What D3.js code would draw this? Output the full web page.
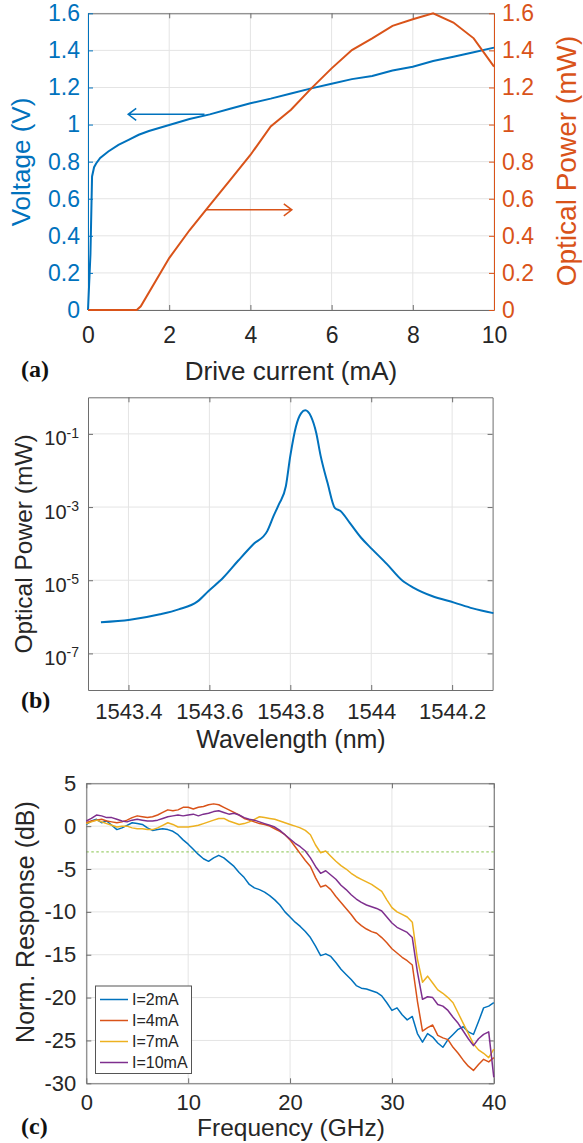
<!DOCTYPE html>
<html>
<head>
<meta charset="utf-8">
<script src="https://cdn.jsdelivr.net/npm/d3@7"></script>
<style>
  body { margin: 0; background: #fff; }
  svg { display: block; font-family: 'Liberation Sans', Arial, sans-serif; }
</style>
</head>
<body>
<div id="chart"></div>
<script>
// ---- data: (a) L-I-V ----
const currentV = [0, 0.06, 0.1, 0.15, 0.2, 0.3, 0.5, 0.75, 1, 1.25, 1.5, 2, 2.5, 3, 3.5, 4, 4.5, 5, 5.5, 6, 6.5, 7, 7.5, 8, 8.5, 9, 9.5, 10]
const voltage = [0, 0.3, 0.72, 0.77, 0.79, 0.82, 0.855, 0.89, 0.917, 0.945, 0.965, 0.998, 1.03, 1.055, 1.085, 1.115, 1.14, 1.168, 1.195, 1.22, 1.245, 1.262, 1.292, 1.312, 1.343, 1.366, 1.39, 1.415]
const currentP = [0, 1.2, 1.3, 2, 2.5, 3, 3.5, 4, 4.5, 5, 5.5, 6, 6.5, 7, 7.5, 8, 8.5, 9, 9.5, 10]
const power = [0, 0, 0.02, 0.28, 0.43, 0.566, 0.7, 0.836, 0.99, 1.08, 1.195, 1.303, 1.402, 1.465, 1.532, 1.568, 1.6, 1.55, 1.465, 1.312]
const currentTicks = [0, 2, 4, 6, 8, 10]
const leftTicks = [0, 0.2, 0.4, 0.6, 0.8, 1, 1.2, 1.4, 1.6]

// ---- data: (b) spectrum ----
const wavelength = [1543.332, 1543.404, 1543.478, 1543.524, 1543.570, 1543.598, 1543.634, 1543.671, 1543.708, 1543.743, 1543.759, 1543.772, 1543.789, 1543.800, 1543.814, 1543.827, 1543.837, 1543.851, 1543.864, 1543.875, 1543.892, 1543.910, 1543.924, 1543.947, 1543.975, 1544.002, 1544.039, 1544.076, 1544.104, 1544.150, 1544.205, 1544.251, 1544.302]
const spectrum = [7.1e-7, 8.3e-7, 1.17e-6, 1.6e-6, 2.6e-6, 5.1e-6, 1.17e-5, 3.4e-5, 9.5e-5, 2.2e-4, 5.8e-4, 1.2e-3, 3.7e-3, 0.025, 0.16, 0.37, 0.44, 0.30, 0.107, 0.025, 4.6e-3, 9.5e-4, 7.8e-4, 3.7e-4, 1.45e-4, 7.1e-5, 2.75e-5, 1.0e-5, 6.3e-6, 3.7e-6, 2.45e-6, 1.7e-6, 1.26e-6]
const wlTicks = [1543.4, 1543.6, 1543.8, 1544, 1544.2]
const powTicks = [1e-1, 1e-3, 1e-5, 1e-7]

// ---- data: (c) modulation response ----
const freq = [0, 0.5, 1, 1.5, 2, 2.5, 3, 3.5, 4, 4.5, 5, 5.5, 6, 6.5, 7, 7.5, 8, 8.5, 9, 9.5, 10, 10.5, 11, 11.5, 12, 12.5, 13, 13.5, 14, 14.5, 15, 15.5, 16, 16.5, 17, 17.5, 18, 18.5, 19, 19.5, 20, 20.5, 21, 21.5, 22, 22.5, 23, 23.5, 24, 24.5, 25, 25.5, 26, 26.5, 27, 27.5, 28, 28.5, 29, 29.5, 30, 30.5, 31, 31.5, 32, 32.5, 33, 33.5, 34, 34.5, 35, 35.5, 36, 36.5, 37, 37.5, 38, 38.5, 39, 39.5, 40]
const resp2mA = [0.2, 0.6, 0.8, 0.4, 0.6, 0.1, -0.4, -0.2, 0.1, 0.4, 0.3, 0.2, -0.2, -0.5, -0.4, -0.3, -0.4, -0.6, -1.0, -1.6, -2.1, -2.7, -3.3, -3.8, -4.1, -3.7, -3.4, -3.7, -4.2, -4.7, -5.4, -6.0, -6.8, -7.2, -7.4, -7.7, -8.1, -8.6, -9.2, -10.0, -10.6, -11.2, -11.7, -12.3, -13.0, -14.0, -15.1, -14.9, -15.2, -15.9, -16.7, -17.3, -17.9, -18.6, -18.9, -19.0, -19.2, -19.4, -19.8, -20.6, -21.5, -21.2, -22.0, -22.6, -22.2, -24.2, -25.2, -24.2, -24.6, -25.3, -25.8, -24.9, -24.3, -23.7, -23.4, -24.0, -24.3, -22.8, -21.2, -21.0, -20.6]
const resp4mA = [0.4, 0.6, 0.7, 0.8, 0.6, 0.5, 0.4, 0.5, 0.7, 1.0, 1.2, 1.1, 1.0, 1.1, 1.3, 1.6, 1.9, 1.8, 1.9, 2.2, 2.2, 2.0, 2.2, 2.3, 2.5, 2.6, 2.5, 2.2, 1.9, 1.6, 1.3, 0.9, 0.7, 0.5, 0.3, 0.2, 0.0, -0.3, -0.6, -1.0, -1.6, -2.4, -3.2, -4.0, -4.7, -6.0, -7.1, -6.9, -7.4, -8.2, -8.9, -9.6, -10.3, -11.1, -11.6, -12.0, -12.3, -12.5, -13.0, -13.6, -14.3, -14.8, -15.3, -15.7, -16.2, -20.4, -23.9, -23.5, -23.2, -24.4, -24.7, -24.9, -25.8, -26.5, -27.3, -28.0, -28.5, -27.8, -27.2, -27.5, -27.0]
const resp7mA = [0.3, 0.5, 0.7, 0.5, 0.3, 0.1, -0.1, 0.0, 0.0, -0.2, -0.3, -0.3, -0.4, -0.4, -0.2, 0.1, 0.4, 0.2, -0.1, -0.1, -0.1, 0.0, 0.1, 0.3, 0.5, 0.7, 0.9, 0.9, 0.6, 0.4, 0.2, 0.3, 0.5, 0.8, 1.1, 1.0, 0.9, 0.8, 0.6, 0.4, 0.2, 0.0, -0.2, -0.5, -1.0, -2.2, -3.1, -2.9, -3.5, -4.1, -4.6, -5.0, -5.5, -5.9, -6.2, -6.5, -6.8, -7.2, -7.6, -8.6, -9.5, -10.0, -10.3, -10.6, -11.2, -15.5, -18.2, -17.5, -18.3, -19.1, -19.5, -20.0, -20.6, -21.8, -23.0, -24.2, -25.4, -26.1, -26.5, -27.0, -26.0]
const resp10mA = [0.6, 0.9, 1.3, 1.2, 1.0, 1.0, 0.8, 0.6, 0.5, 0.7, 0.8, 0.7, 0.6, 0.6, 0.7, 0.9, 1.1, 1.2, 1.3, 1.2, 1.3, 1.4, 1.2, 1.4, 1.5, 1.7, 1.8, 1.6, 1.4, 1.5, 1.3, 1.0, 0.8, 0.7, 0.5, 0.3, 0.1, -0.1, -0.5, -1.0, -1.5, -2.0, -2.4, -2.9, -3.7, -4.7, -5.5, -5.2, -5.7, -6.2, -6.9, -7.4, -8.0, -8.5, -8.9, -9.2, -9.4, -9.6, -9.9, -10.6, -11.3, -11.8, -12.1, -12.4, -13.0, -17.0, -20.2, -19.9, -20.0, -20.8, -21.0, -21.5, -22.3, -23.0, -23.9, -24.8, -25.6, -24.8, -24.3, -24.0, -29.3]
const seriesNames = ['I=2mA', 'I=4mA', 'I=7mA', 'I=10mA']
const freqTicks = [0, 10, 20, 30, 40]
const respTicks = [-30, -25, -20, -15, -10, -5, 0, 5]
const cutoff = -3

const blue = '#0072BD', orange = '#D95319', yellow = '#EDB120', purple = '#7E2F8E'
const gridColor = '#e4e4e4', boxColor = '#6e6e6e', textColor = '#262626'

const svg = d3.select('#chart').append('svg').attr('width', 583).attr('height', 1143)

// light grid lines for a panel
function grid(g, x, y, xt, yt) {
  const [x0, x1] = x.range(), [y0, y1] = y.range()
  g.append('g').selectAll('line').data(xt).join('line')
    .attr('x1', d => x(d)).attr('x2', d => x(d)).attr('y1', y0).attr('y2', y1)
    .attr('stroke', gridColor)
  g.append('g').selectAll('line').data(yt).join('line')
    .attr('x1', x0).attr('x2', x1).attr('y1', d => y(d)).attr('y2', d => y(d))
    .attr('stroke', gridColor)
}

function styleAxis(g, color, size) {
  g.select('.domain').attr('stroke', color)
  g.selectAll('.tick line').attr('stroke', color)
  g.selectAll('text').attr('fill', color).style('font-size', size + 'px').attr('font-family', null)
}

function rotLabel(x, y, txt, size, color) {
  svg.append('text').attr('transform', `translate(${x},${y}) rotate(-90)`)
    .attr('text-anchor', 'middle').attr('dominant-baseline', 'central')
    .style('font-size', size + 'px').attr('fill', color).text(txt)
}

function tag(y, txt) {
  svg.append('text').attr('x', 21).attr('y', y)
    .attr('font-family', "'Liberation Serif', 'Times New Roman', serif")
    .attr('font-weight', 700).style('font-size', '24px').attr('fill', '#111').text(txt)
}

const fmt = d => String(+d.toFixed(1))

// ================= panel (a) =================
const xA = d3.scaleLinear().domain([0, 10]).range([88, 494])
const yV = d3.scaleLinear().domain([0, 1.6]).range([310, 13.3])
const yP = d3.scaleLinear().domain([0, 1.6]).range([310, 13.3])
const pa = svg.append('g')
grid(pa, xA, yV, currentTicks, leftTicks)

pa.append('g').attr('transform', 'translate(0,13.3)')
  .call(d3.axisTop(xA).tickValues(currentTicks).tickSizeInner(-5).tickSizeOuter(0).tickFormat(''))
  .call(g => styleAxis(g, boxColor, 23))
pa.append('g').attr('transform', 'translate(0,310)')
  .call(d3.axisBottom(xA).tickValues(currentTicks).tickSizeInner(-5).tickSizeOuter(0).tickFormat(fmt))
  .call(g => styleAxis(g, boxColor, 23))
  .call(g => g.selectAll('text').attr('y', 33).attr('dy', null).attr('fill', textColor))
pa.append('g').attr('transform', 'translate(88,0)')
  .call(d3.axisLeft(yV).tickValues(leftTicks).tickSizeInner(-5).tickSizeOuter(0).tickPadding(8).tickFormat(fmt))
  .call(g => styleAxis(g, blue, 23))
pa.append('g').attr('transform', 'translate(494,0)')
  .call(d3.axisRight(yP).tickValues(leftTicks).tickSizeInner(-5).tickSizeOuter(0).tickPadding(8).tickFormat(fmt))
  .call(g => styleAxis(g, orange, 23))

pa.append('path').datum(currentV.map((c, i) => [c, voltage[i]]))
  .attr('fill', 'none').attr('stroke', blue).attr('stroke-width', 2)
  .attr('d', d3.line().x(d => xA(d[0])).y(d => yV(d[1])))
pa.append('path').datum(currentP.map((c, i) => [c, power[i]]))
  .attr('fill', 'none').attr('stroke', orange).attr('stroke-width', 2)
  .attr('d', d3.line().x(d => xA(d[0])).y(d => yP(d[1])))

// arrows pointing to the axis each curve belongs to
const arrows = [
  { from: 2.87, to: 0.99, level: 1.055, y: yV, color: blue },
  { from: 2.91, to: 5.02, level: 0.54, y: yP, color: orange }
]
arrows.forEach(a => {
  const y = a.y(a.level), x0 = xA(a.from), x1 = xA(a.to), dir = x1 > x0 ? -1 : 1
  pa.append('path')
    .attr('d', `M${x0},${y}H${x1}M${x1 + dir * 8},${y - 6}L${x1},${y}L${x1 + dir * 8},${y + 6}`)
    .attr('fill', 'none').attr('stroke', a.color).attr('stroke-width', 1.5)
})

rotLabel(21, 162, 'Voltage (V)', 26, blue)
rotLabel(566, 161, 'Optical Power (mW)', 28, orange)
svg.append('text').attr('x', 291).attr('y', 380).attr('text-anchor', 'middle')
  .style('font-size', '26px').attr('fill', textColor).text('Drive current (mA)')
tag(377, '(a)')

// ================= panel (b) =================
const xB = d3.scaleLinear().domain([1543.3, 1544.3]).range([88, 492.6])
const yB = d3.scaleLog().domain([1e-8, 1]).range([690, 397.3])
const pb = svg.append('g')
grid(pb, xB, yB, wlTicks, powTicks)

pb.append('g').attr('transform', 'translate(0,397.3)')
  .call(d3.axisTop(xB).tickValues(wlTicks).tickSizeInner(-5).tickSizeOuter(0).tickFormat(''))
  .call(g => styleAxis(g, boxColor, 22))
pb.append('g').attr('transform', 'translate(0,690)')
  .call(d3.axisBottom(xB).tickValues(wlTicks).tickSizeInner(-5).tickSizeOuter(0).tickFormat(d => String(+d.toFixed(1))))
  .call(g => styleAxis(g, boxColor, 22))
  .call(g => g.selectAll('text').attr('y', 29).attr('dy', null).attr('fill', textColor))
pb.append('g').attr('transform', 'translate(492.6,0)')
  .call(d3.axisRight(yB).tickValues(powTicks).tickSizeInner(-5).tickSizeOuter(0).tickFormat(''))
  .call(g => styleAxis(g, boxColor, 22))
pb.append('g').attr('transform', 'translate(88,0)')
  .call(d3.axisLeft(yB).tickValues(powTicks).tickSizeInner(-5).tickSizeOuter(0).tickPadding(9).tickFormat(''))
  .call(g => styleAxis(g, boxColor, 20))
  .call(g => g.selectAll('.tick text').attr('fill', textColor).attr('dy', '0.55em').each(function (d) {
    const t = d3.select(this)
    t.append('tspan').text('10')
    t.append('tspan').attr('dy', '-0.55em').style('font-size', '14px').text(Math.round(Math.log10(d)))
  }))

pb.append('path').datum(wavelength.map((w, i) => [w, spectrum[i]]))
  .attr('fill', 'none').attr('stroke', blue).attr('stroke-width', 2)
  .attr('d', d3.line().curve(d3.curveMonotoneX).x(d => xB(d[0])).y(d => yB(d[1])))

rotLabel(23, 544, 'Optical Power (mW)', 24.5, textColor)
svg.append('text').attr('x', 291).attr('y', 748).attr('text-anchor', 'middle')
  .style('font-size', '25px').attr('fill', textColor).text('Wavelength (nm)')
tag(708, '(b)')

// ================= panel (c) =================
const xC = d3.scaleLinear().domain([0, 40]).range([86.3, 493.8])
const yC = d3.scaleLinear().domain([-30, 5]).range([1083.3, 783.3])
const pc = svg.append('g')
grid(pc, xC, yC, freqTicks, respTicks)

pc.append('line').attr('x1', xC(0)).attr('x2', xC(40)).attr('y1', yC(cutoff)).attr('y2', yC(cutoff))
  .attr('stroke', '#9fd070').attr('stroke-width', 1.3).attr('stroke-dasharray', '2.5,2.5')

pc.append('g').attr('transform', 'translate(0,783.3)')
  .call(d3.axisTop(xC).tickValues(freqTicks).tickSizeInner(-5).tickSizeOuter(0).tickFormat(''))
  .call(g => styleAxis(g, boxColor, 22))
pc.append('g').attr('transform', 'translate(0,1083.3)')
  .call(d3.axisBottom(xC).tickValues(freqTicks).tickSizeInner(-5).tickSizeOuter(0))
  .call(g => styleAxis(g, boxColor, 22))
  .call(g => g.selectAll('text').attr('y', 27).attr('dy', null).attr('fill', textColor))
pc.append('g').attr('transform', 'translate(493.8,0)')
  .call(d3.axisRight(yC).tickValues(respTicks).tickSizeInner(-5).tickSizeOuter(0).tickFormat(''))
  .call(g => styleAxis(g, boxColor, 22))
pc.append('g').attr('transform', 'translate(86.3,0)')
  .call(d3.axisLeft(yC).tickValues(respTicks).tickSizeInner(-5).tickSizeOuter(0).tickPadding(10).tickFormat(d => String(d)))
  .call(g => styleAxis(g, boxColor, 22))
  .call(g => g.selectAll('text').attr('fill', textColor))

const responses = [resp2mA, resp4mA, resp7mA, resp10mA]
const colors = [blue, orange, yellow, purple]
const lineC = d3.line().x(d => xC(d[0])).y(d => yC(d[1]))
responses.forEach((r, k) => {
  pc.append('path').datum(freq.map((f, i) => [f, r[i]]))
    .attr('fill', 'none').attr('stroke', colors[k]).attr('stroke-width', 1.5)
    .attr('stroke-linejoin', 'round').attr('d', lineC)
})

const legend = pc.append('g').attr('transform', 'translate(95.5,986)')
legend.append('rect').attr('width', 96).attr('height', 87.5)
  .attr('fill', '#fff').attr('stroke', '#555').attr('stroke-width', 1)
seriesNames.forEach((name, k) => {
  const y = 13.5 + k * 21
  legend.append('line').attr('x1', 4.5).attr('x2', 32.5).attr('y1', y).attr('y2', y)
    .attr('stroke', colors[k]).attr('stroke-width', 1.5)
  legend.append('text').attr('x', 36.5).attr('y', y).attr('dy', '0.35em')
    .style('font-size', '16px').attr('fill', textColor).text(name)
})

rotLabel(25, 922, 'Norm. Response (dB)', 25, textColor)
svg.append('text').attr('x', 291).attr('y', 1136).attr('text-anchor', 'middle')
  .style('font-size', '24.5px').attr('fill', textColor).text('Frequency (GHz)')
tag(1134, '(c)')
</script>
</body>
</html>
